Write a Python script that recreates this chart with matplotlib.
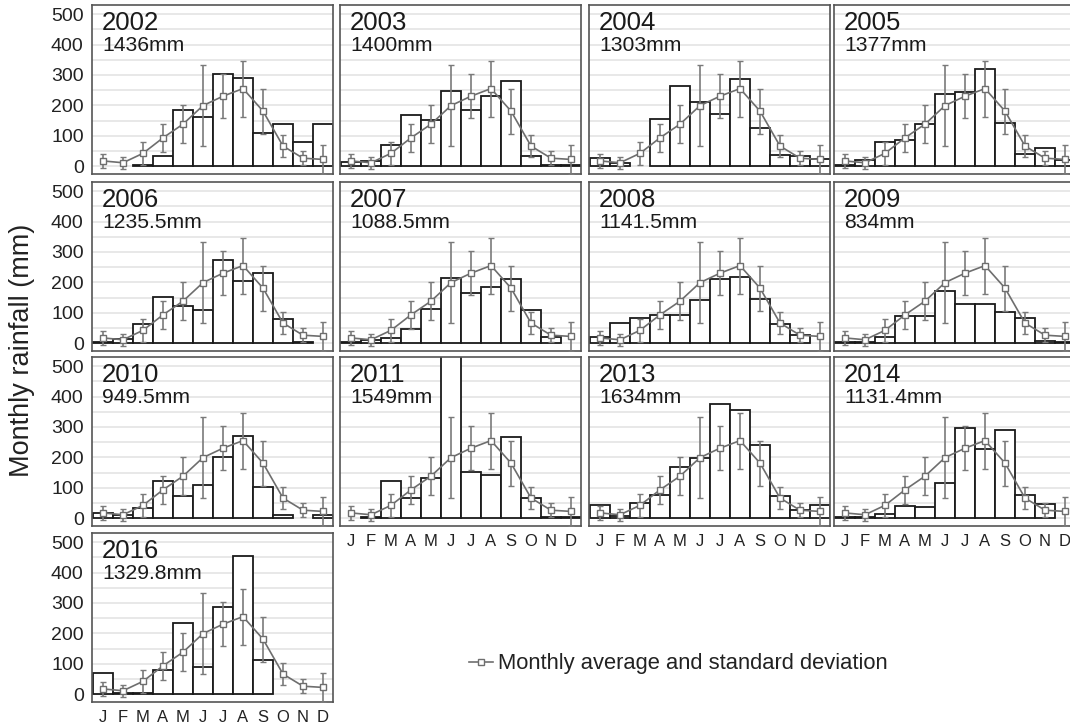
import numpy as np
import matplotlib
matplotlib.use("Agg")
import matplotlib.pyplot as plt
from matplotlib.lines import Line2D

plt.rcParams['font.family'] = ['Liberation Sans', 'DejaVu Sans']

months = ["J", "F", "M", "A", "M", "J", "J", "A", "S", "O", "N", "D"]

avg_mean = [17, 11, 42, 93, 138, 199, 230, 255, 181, 66, 26, 22]
avg_sd = [22, 19, 37, 45, 63, 133, 72, 92, 74, 35, 24, 48]

years = ["2002", "2003", "2004", "2005", "2006", "2007", "2008", "2009",
         "2010", "2011", "2013", "2014", "2016"]
totals = ["1436mm", "1400mm", "1303mm", "1377mm", "1235.5mm", "1088.5mm",
          "1141.5mm", "834mm", "949.5mm", "1549mm", "1634mm", "1131.4mm",
          "1329.8mm"]

r2002 = [0, 0, 4, 32, 183, 160, 302, 291, 110, 138, 78, 138]
r2003 = [12, 18, 68, 168, 152, 247, 185, 230, 279, 33, 3, 5]
r2004 = [25, 11, 0, 156, 263, 212, 173, 285, 126, 37, 32, 24]
r2005 = [2, 19, 78, 86, 138, 237, 245, 321, 142, 41, 58, 21]
r2006 = [2, 14, 63, 152, 122, 110, 275, 203, 230, 78, 2, 0]
r2007 = [2, 11, 18, 47, 112, 215, 164, 185, 210, 108, 19, 0]
r2008 = [21, 65, 82, 92, 93, 142, 210, 216, 144, 64, 25, 0]
r2009 = [2, 2, 20, 89, 89, 171, 128, 129, 103, 84, 7, 2]
r2010 = [18, 9, 34, 123, 74, 109, 200, 271, 101, 11, 0, 11]
r2011 = [0, 3, 121, 67, 132, 593, 153, 143, 267, 65, 3, 2]
r2013 = [42, 7, 50, 76, 167, 197, 375, 356, 240, 72, 25, 42]
r2014 = [3, 2, 13, 41, 35, 114, 295, 226, 291, 77, 45, 0]
r2016 = [70, 2, 4, 78, 233, 90, 285, 455, 113, 0, 0, 0]

rain = [r2002, r2003, r2004, r2005, r2006, r2007, r2008, r2009,
        r2010, r2011, r2013, r2014, r2016]

W, H = 1070, 726
fig = plt.figure(figsize=(W / 100, H / 100), dpi=100)

lefts = [92, 340, 589, 834]
tops = [5, 182, 357, 533]
pw, ph = 241, 169

line_col = "#6e6e6e"
err_col = "#7a7a7a"
x = np.arange(12)

for i, (yr, tot, vals) in enumerate(zip(years, totals, rain)):
    r, c = divmod(i, 4)
    l, t = lefts[c], tops[r]
    ax = fig.add_axes([l / W, 1 - (t + ph) / H, pw / W, ph / H])
    ax.set_xlim(-0.55, 11.5)
    ax.set_ylim(-26, 530)
    ax.set_yticks(np.arange(0, 501, 50))
    ax.grid(axis='y', color="#e6e6e6", linewidth=1.3)
    ax.set_axisbelow(True)
    v = np.array(vals, dtype=float)
    mask = v > 0
    ax.bar(x[mask], v[mask], width=1.0, color="white", edgecolor="#1a1a1a",
           linewidth=1.3, zorder=2)
    ax.errorbar(x, avg_mean, yerr=avg_sd, color=line_col, ecolor=err_col,
                elinewidth=1.2, capsize=2.2, capthick=1.0, linewidth=1.2,
                marker='s', markersize=5, markerfacecolor="white",
                markeredgecolor=line_col, markeredgewidth=1.0, zorder=3)
    for s in ax.spines.values():
        s.set_color("#555555")
        s.set_linewidth(1.2)
    ax.tick_params(length=0)
    ylabels = [str(v_) if v_ % 100 == 0 else "" for v_ in range(0, 501, 50)]
    if c == 0:
        ax.set_yticklabels(ylabels, fontsize=14, color="#222222")
        ax.tick_params(axis='y', pad=6)
    else:
        ax.set_yticklabels([])
    bottom = (r == 3) or (r == 2 and c > 0)
    ax.set_xticks(x)
    if bottom:
        ax.set_xticklabels(months, fontsize=12, color="#222222")
        ax.tick_params(axis='x', pad=6)
    else:
        ax.set_xticklabels([])
    ax.text(10 / pw, 1 - 25 / ph, yr, transform=ax.transAxes, fontsize=18.5,
            va='baseline', ha='left', color="#1a1a1a")
    ax.text(10 / pw, 1 - 46 / ph, tot, transform=ax.transAxes, fontsize=15.2,
            va='baseline', ha='left', color="#1a1a1a")

fig.text(22 / W, 1 - 350 / H, "Monthly rainfall (mm)", rotation=90,
         fontsize=19.5, va='center', ha='center', color="#222222")

handle = Line2D([], [], color=line_col, linewidth=1.2, marker='s',
                markersize=5, markerfacecolor="white",
                markeredgecolor=line_col)
fig.legend([handle], ["Monthly average and standard deviation"],
           loc='center left', bbox_to_anchor=(469 / W, 1 - 664 / H),
           frameon=False, fontsize=15.8, handlelength=1.1,
           handletextpad=0.2, borderpad=0, borderaxespad=0,
           labelcolor="#222222")

fig.savefig("out.png", dpi=100)
